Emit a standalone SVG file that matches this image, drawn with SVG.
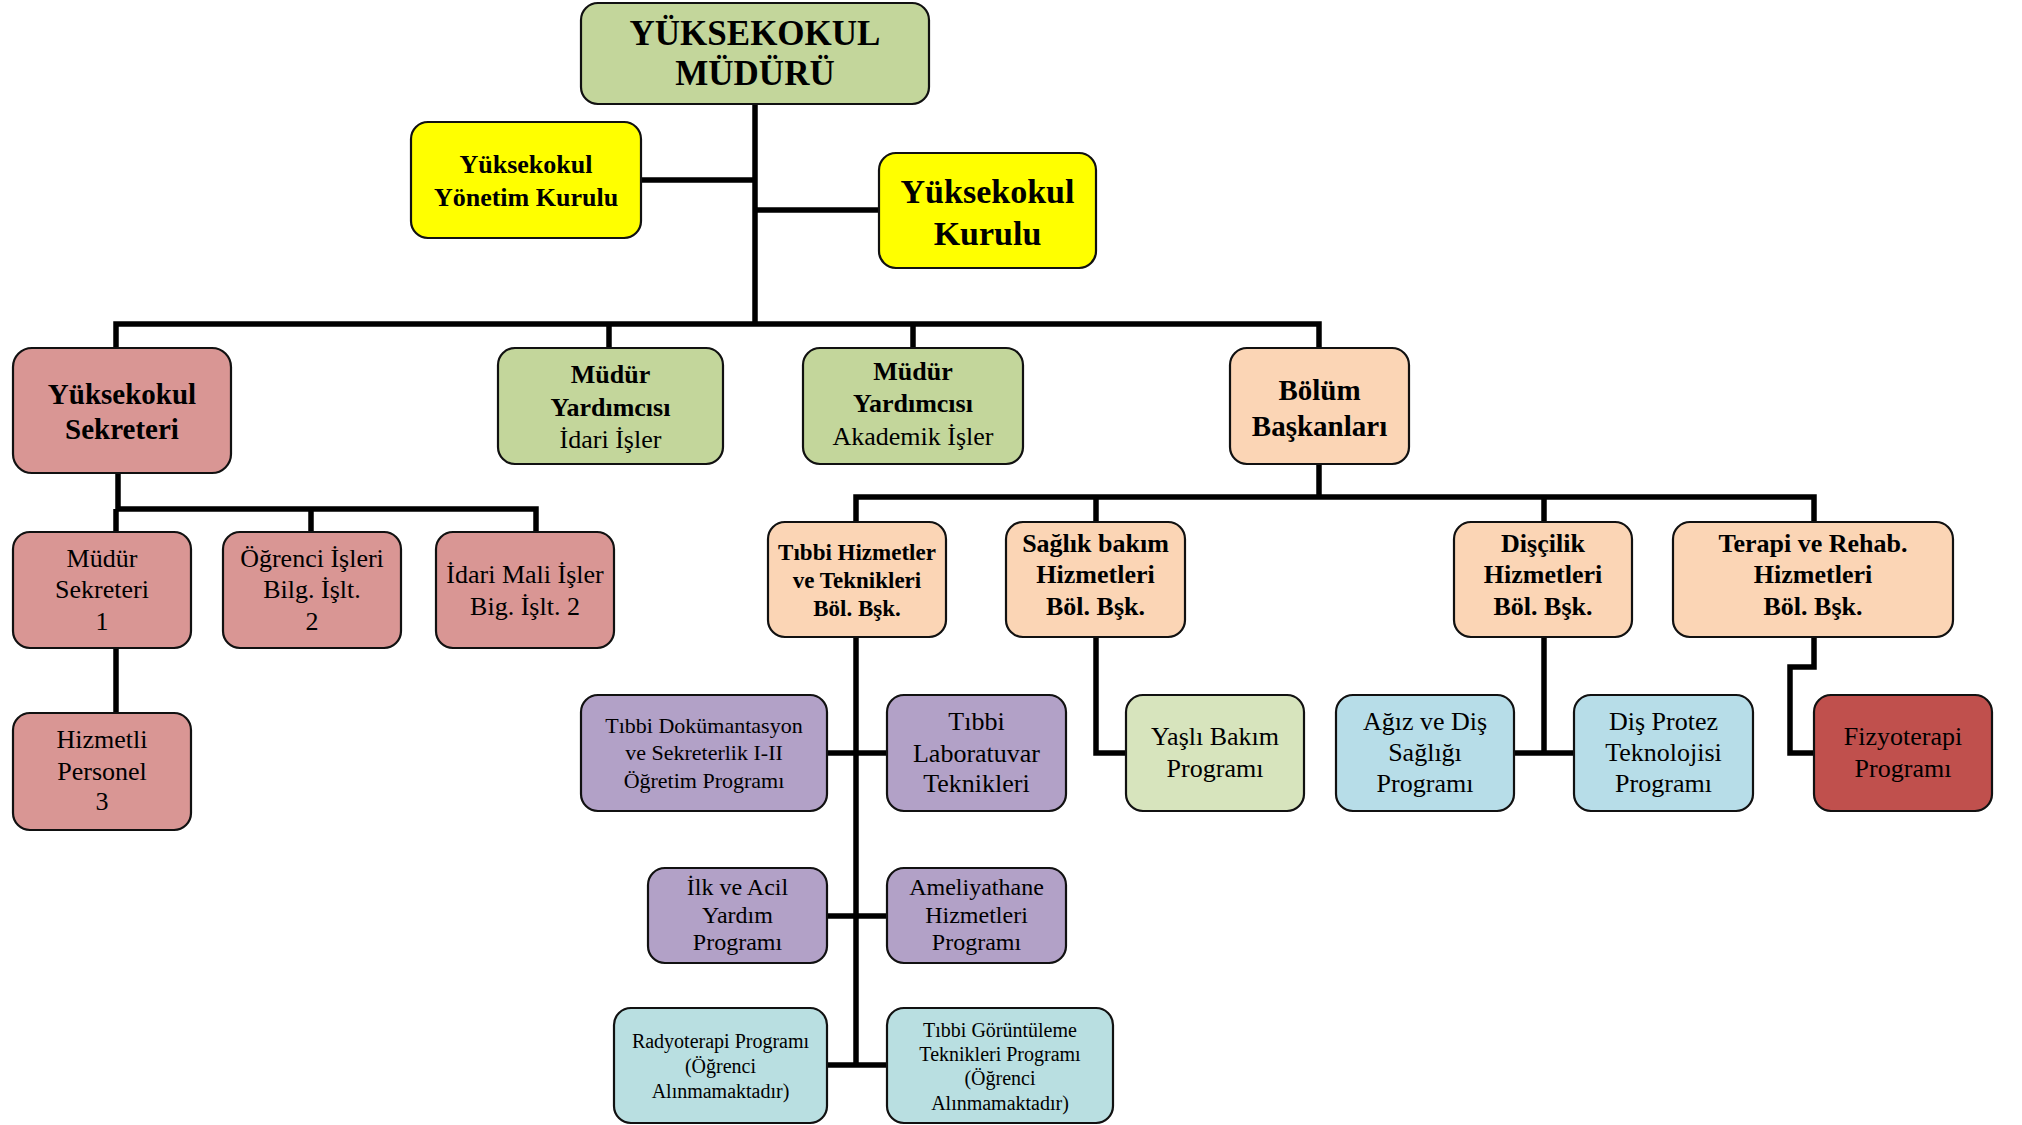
<svg xmlns="http://www.w3.org/2000/svg" width="2022" height="1125" viewBox="0 0 2022 1125">
<style>
.b{stroke:#111;stroke-width:2.2}
.t{font-family:"Liberation Serif","Times New Roman",serif;text-anchor:middle;fill:#000}
.bd{font-weight:bold}
.c{fill:none;stroke:#000;stroke-width:5.5}
.olive{fill:#c3d69b}.yel{fill:#ffff00}.pink{fill:#d99694}.peach{fill:#fbd5b5}
.purp{fill:#b2a1c7}.lg{fill:#d7e4bd}.lb{fill:#b7dde8}.lc{fill:#b9dfe1}.red{fill:#c0504d}
</style>
<rect width="2022" height="1125" fill="#fff"/>
<g id="connectors">
<path class="c" d="M755 104V324M641 180H755M755 210H879"/>
<path class="c" d="M116 348V324H1319V348M609 324V348M913 324V348"/>
<path class="c" d="M118 473V509H536V532M116 509V532M311 509V532M116 648V713"/>
<path class="c" d="M1319 464V497M856 522V497H1814V522M1096 497V522M1544 497V522"/>
<path class="c" d="M856 637V1065M827 753H887M827 916H887M827 1065H887"/>
<path class="c" d="M1096 637V753H1126"/>
<path class="c" d="M1544 637V753M1514 753H1574"/>
<path class="c" d="M1814 637V667H1790V753H1814"/>
</g>
<g id="mudur"><rect class="b olive" x="581" y="3" width="348" height="101" rx="17"/>
<text class="t bd" font-size="35"><tspan x="755" y="45">YÜKSEKOKUL</tspan><tspan x="755" y="85">MÜDÜRÜ</tspan></text></g>
<g id="yonetim"><rect class="b yel" x="411" y="122" width="230" height="116" rx="17"/>
<text class="t bd" font-size="26"><tspan x="526" y="173">Yüksekokul</tspan><tspan x="526" y="206">Yönetim Kurulu</tspan></text></g>
<g id="kurulu"><rect class="b yel" x="879" y="153" width="217" height="115" rx="17"/>
<text class="t bd" font-size="34"><tspan x="987.5" y="203">Yüksekokul</tspan><tspan x="987.5" y="245">Kurulu</tspan></text></g>
<g id="sekreteri"><rect class="b pink" x="13" y="348" width="218" height="125" rx="19"/>
<text class="t bd" font-size="29"><tspan x="122" y="404">Yüksekokul</tspan><tspan x="122" y="439">Sekreteri</tspan></text></g>
<g id="myidari"><rect class="b olive" x="498" y="348" width="225" height="116" rx="17"/>
<text class="t" font-size="26"><tspan class="bd" x="610.5" y="383">Müdür</tspan><tspan class="bd" x="610.5" y="416">Yardımcısı</tspan><tspan x="610.5" y="448">İdari İşler</tspan></text></g>
<g id="myakademik"><rect class="b olive" x="803" y="348" width="220" height="116" rx="17"/>
<text class="t" font-size="26"><tspan class="bd" x="913" y="380">Müdür</tspan><tspan class="bd" x="913" y="412">Yardımcısı</tspan><tspan x="913" y="445">Akademik İşler</tspan></text></g>
<g id="bolum"><rect class="b peach" x="1230" y="348" width="179" height="116" rx="17"/>
<text class="t bd" font-size="29"><tspan x="1319.5" y="400">Bölüm</tspan><tspan x="1319.5" y="436">Başkanları</tspan></text></g>
<g id="mudursek"><rect class="b pink" x="13" y="532" width="178" height="116" rx="17"/>
<text class="t" font-size="26"><tspan x="102" y="567">Müdür</tspan><tspan x="102" y="598">Sekreteri</tspan><tspan x="102" y="630">1</tspan></text></g>
<g id="ogrenci"><rect class="b pink" x="223" y="532" width="178" height="116" rx="17"/>
<text class="t" font-size="26"><tspan x="312" y="567">Öğrenci İşleri</tspan><tspan x="312" y="598">Bilg. İşlt.</tspan><tspan x="312" y="630">2</tspan></text></g>
<g id="idarimali"><rect class="b pink" x="436" y="532" width="178" height="116" rx="17"/>
<text class="t" font-size="26"><tspan x="525" y="583">İdari Mali İşler</tspan><tspan x="525" y="615">Big. İşlt. 2</tspan></text></g>
<g id="hizmetli"><rect class="b pink" x="13" y="713" width="178" height="117" rx="17"/>
<text class="t" font-size="26"><tspan x="102" y="748">Hizmetli</tspan><tspan x="102" y="780">Personel</tspan><tspan x="102" y="810">3</tspan></text></g>
<g id="tibbihiz"><rect class="b peach" x="768" y="522" width="178" height="115" rx="17"/>
<text class="t bd" font-size="23"><tspan x="857" y="560">Tıbbi Hizmetler</tspan><tspan x="857" y="588">ve Teknikleri</tspan><tspan x="857" y="616">Böl. Bşk.</tspan></text></g>
<g id="saglik"><rect class="b peach" x="1006" y="522" width="179" height="115" rx="17"/>
<text class="t bd" font-size="26"><tspan x="1095.5" y="552">Sağlık bakım</tspan><tspan x="1095.5" y="583">Hizmetleri</tspan><tspan x="1095.5" y="615">Böl. Bşk.</tspan></text></g>
<g id="discilik"><rect class="b peach" x="1454" y="522" width="178" height="115" rx="17"/>
<text class="t bd" font-size="26"><tspan x="1543" y="552">Dişçilik</tspan><tspan x="1543" y="583">Hizmetleri</tspan><tspan x="1543" y="615">Böl. Bşk.</tspan></text></g>
<g id="terapi"><rect class="b peach" x="1673" y="522" width="280" height="115" rx="17"/>
<text class="t bd" font-size="26"><tspan x="1813" y="552">Terapi ve Rehab.</tspan><tspan x="1813" y="583">Hizmetleri</tspan><tspan x="1813" y="615">Böl. Bşk.</tspan></text></g>
<g id="tibbidok"><rect class="b purp" x="581" y="695" width="246" height="116" rx="17"/>
<text class="t" font-size="22"><tspan x="704" y="733">Tıbbi Dokümantasyon</tspan><tspan x="704" y="760">ve Sekreterlik I-II</tspan><tspan x="704" y="788">Öğretim Programı</tspan></text></g>
<g id="tibbilab"><rect class="b purp" x="887" y="695" width="179" height="116" rx="17"/>
<text class="t" font-size="26"><tspan x="976.5" y="730">Tıbbi</tspan><tspan x="976.5" y="762">Laboratuvar</tspan><tspan x="976.5" y="792">Teknikleri</tspan></text></g>
<g id="ilkacil"><rect class="b purp" x="648" y="868" width="179" height="95" rx="17"/>
<text class="t" font-size="24"><tspan x="737.5" y="895">İlk ve Acil</tspan><tspan x="737.5" y="923">Yardım</tspan><tspan x="737.5" y="950">Programı</tspan></text></g>
<g id="ameliyat"><rect class="b purp" x="887" y="868" width="179" height="95" rx="17"/>
<text class="t" font-size="24"><tspan x="976.5" y="895">Ameliyathane</tspan><tspan x="976.5" y="923">Hizmetleri</tspan><tspan x="976.5" y="950">Programı</tspan></text></g>
<g id="radyo"><rect class="b lc" x="614" y="1008" width="213" height="115" rx="17"/>
<text class="t" font-size="20"><tspan x="720.5" y="1048">Radyoterapi Programı</tspan><tspan x="720.5" y="1073">(Öğrenci</tspan><tspan x="720.5" y="1098">Alınmamaktadır)</tspan></text></g>
<g id="goruntu"><rect class="b lc" x="887" y="1008" width="226" height="115" rx="17"/>
<text class="t" font-size="20"><tspan x="1000" y="1037">Tıbbi Görüntüleme</tspan><tspan x="1000" y="1061">Teknikleri Programı</tspan><tspan x="1000" y="1085">(Öğrenci</tspan><tspan x="1000" y="1110">Alınmamaktadır)</tspan></text></g>
<g id="yasli"><rect class="b lg" x="1126" y="695" width="178" height="116" rx="17"/>
<text class="t" font-size="26"><tspan x="1215" y="745">Yaşlı Bakım</tspan><tspan x="1215" y="777">Programı</tspan></text></g>
<g id="agiz"><rect class="b lb" x="1336" y="695" width="178" height="116" rx="17"/>
<text class="t" font-size="26"><tspan x="1425" y="730">Ağız ve Diş</tspan><tspan x="1425" y="761">Sağlığı</tspan><tspan x="1425" y="792">Programı</tspan></text></g>
<g id="protez"><rect class="b lb" x="1574" y="695" width="179" height="116" rx="17"/>
<text class="t" font-size="26"><tspan x="1663.5" y="730">Diş Protez</tspan><tspan x="1663.5" y="761">Teknolojisi</tspan><tspan x="1663.5" y="792">Programı</tspan></text></g>
<g id="fizyo"><rect class="b red" x="1814" y="695" width="178" height="116" rx="17"/>
<text class="t" font-size="26"><tspan x="1903" y="745">Fizyoterapi</tspan><tspan x="1903" y="777">Programı</tspan></text></g>
</svg>
